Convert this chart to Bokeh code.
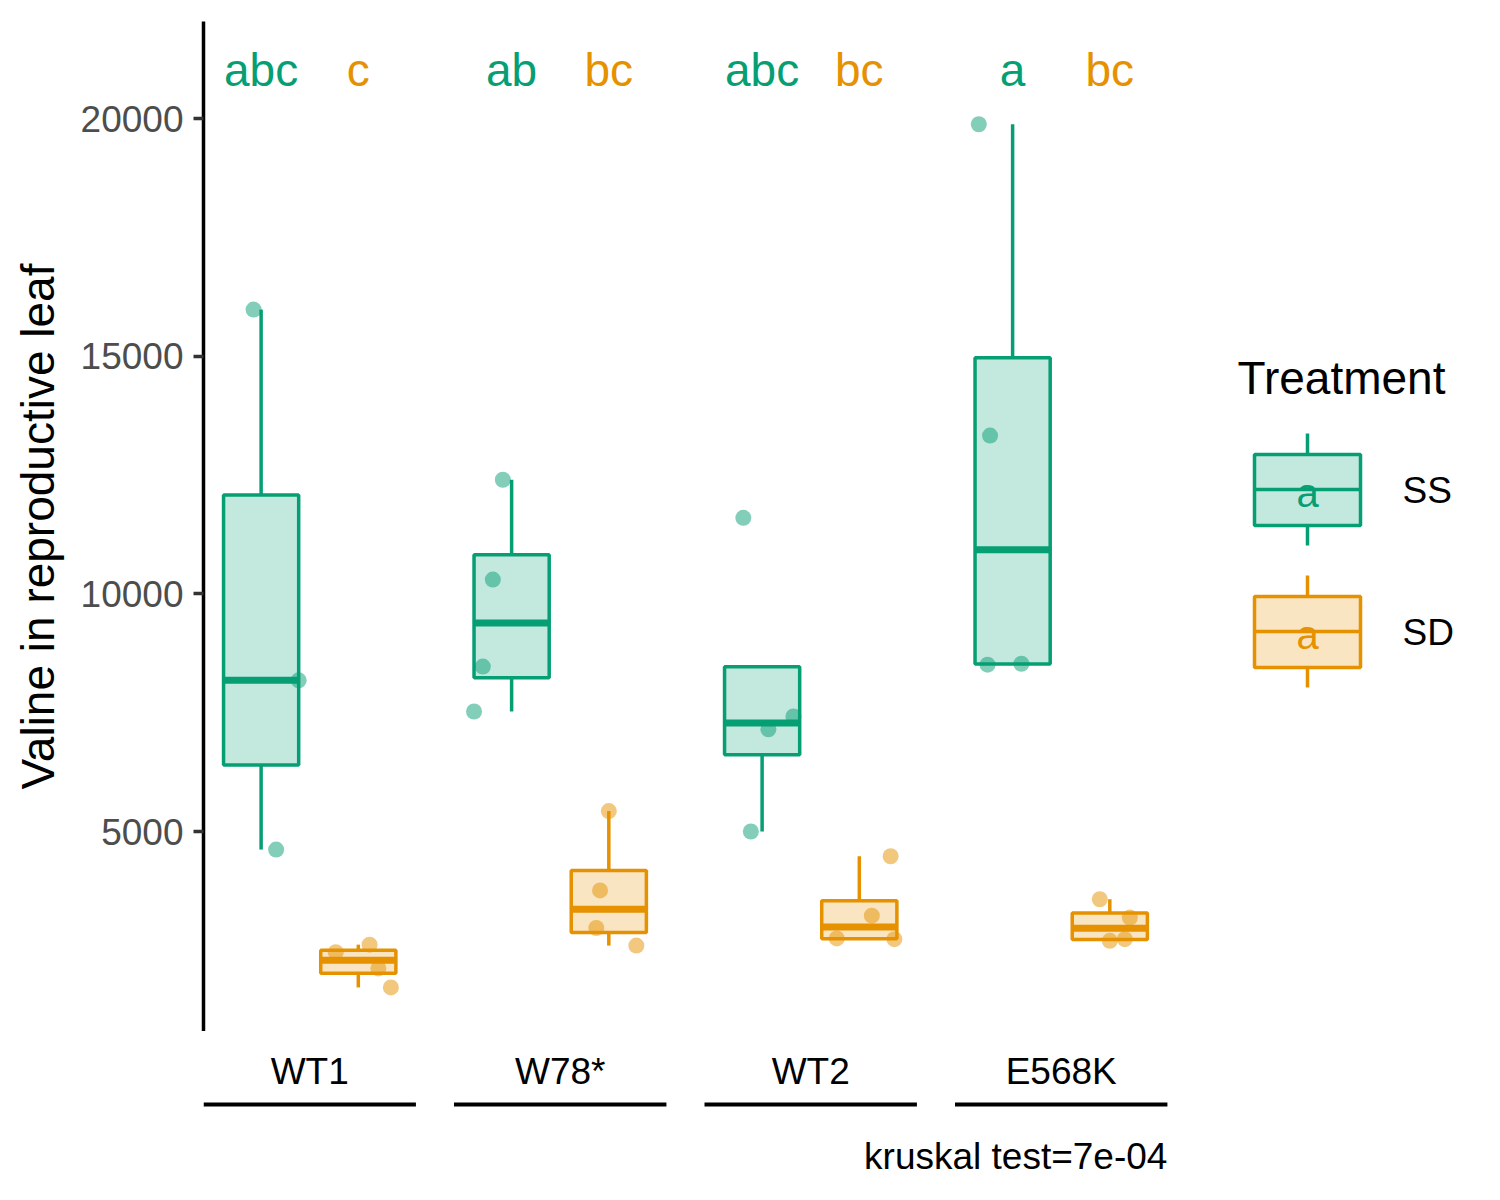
import numpy as np
from bokeh.plotting import figure
from bokeh.layouts import column
from bokeh.models import Range1d, FixedTicker
from bokeh.core.properties import value
from bokeh.embed import file_html
from bokeh.resources import INLINE

# ---------------- data ----------------
genotypes = ["WT1", "W78*", "WT2", "E568K"]
treatments = ["SS", "SD"]

ss_wt1 = [15980, 8180, 4620]
ss_w78 = [12400, 10300, 8470, 7525]
ss_wt2 = [11600, 7420, 7150, 5000]
ss_e568k = [19880, 13330, 8530, 8510]

sd_wt1 = [2620, 2460, 2120, 1720]
sd_w78 = [5430, 3760, 2970, 2600]
sd_wt2 = [4480, 3230, 2750, 2735]
sd_e568k = [3575, 3190, 2735, 2700]

# horizontal jitter of the points
jit_ss_wt1 = [-0.03, 0.15, 0.06]
jit_ss_w78 = [-0.035, -0.075, -0.115, -0.15]
jit_ss_wt2 = [-0.075, 0.125, 0.025, -0.045]
jit_ss_e568k = [-0.135, -0.09, 0.035, -0.10]
jit_sd_wt1 = [0.045, -0.09, 0.08, 0.13]
jit_sd_w78 = [0.0, -0.035, -0.05, 0.11]
jit_sd_wt2 = [0.125, 0.05, -0.09, 0.14]
jit_sd_e568k = [-0.04, 0.08, 0.06, 0.0]

letters_ss = ["abc", "ab", "abc", "a"]
letters_sd = ["c", "bc", "bc", "bc"]
letter_y = 21030
y_ticks = [5000, 10000, 15000, 20000]
kruskal_text = "kruskal test=7e-04"
y_label = "Valine in reproductive leaf"

ss_groups = [ss_wt1, ss_w78, ss_wt2, ss_e568k]
sd_groups = [sd_wt1, sd_w78, sd_wt2, sd_e568k]
ss_jit = [jit_ss_wt1, jit_ss_w78, jit_ss_wt2, jit_ss_e568k]
sd_jit = [jit_sd_wt1, jit_sd_w78, jit_sd_wt2, jit_sd_e568k]

colors = {"SS": "#069E73", "SD": "#E69100"}
FONT = value("Liberation Sans")

# ---------------- geometry ----------------
W = 1484
OFF = 1                         # screenshot offset of the figure
X0_PX, Y0_PX, Y1_PX = 204, 22, 1032   # reference pixels of the panel frame
XPU = 250.5                     # px per category unit
YPU = 0.047533                  # px per value unit
x_start = -0.424
y_top = 22041
frame_w = W - (X0_PX - OFF)
frame_h = Y1_PX - Y0_PX
H1 = (Y0_PX - OFF) + frame_h
H2 = 1185 - Y1_PX

def px_x(px):
    return x_start + (px - X0_PX) / XPU

def px_y(py):
    return y_top - (py - Y0_PX) / YPU

xr = Range1d(x_start, x_start + frame_w / XPU)

p = figure(width=W, height=H1, output_backend="svg", toolbar_location=None,
           x_axis_location=None, x_range=xr,
           y_range=Range1d(y_top - frame_h / YPU, y_top),
           min_border_left=X0_PX - OFF, min_border_right=0,
           min_border_top=Y0_PX - OFF, min_border_bottom=0)
p.outline_line_color = None
p.xgrid.visible = False
p.ygrid.visible = False

ax = p.yaxis[0]
ax.ticker = FixedTicker(ticks=y_ticks)
ax.axis_line_width = 3.5
ax.axis_line_color = "black"
ax.major_tick_line_color = "#333333"
ax.major_tick_line_width = 3.5
ax.major_tick_out = 10
ax.major_tick_in = 0
ax.minor_tick_line_color = None
ax.major_label_text_font = "Liberation Sans"
ax.major_label_text_font_size = "37px"
ax.major_label_text_color = "#4D4D4D"
ax.major_label_standoff = 10
ax.axis_label = y_label
ax.axis_label_text_font = "Liberation Sans"
ax.axis_label_text_font_size = "46px"
ax.axis_label_text_font_style = "normal"
ax.axis_label_text_color = "black"
ax.axis_label_standoff = 14

dodge = {"SS": -0.194, "SD": 0.194}
box_w = 0.3

def box_stats(vals):
    y = np.asarray(vals, dtype=float)
    q1, med, q3 = np.percentile(y, [25, 50, 75])
    iqr = q3 - q1
    out = (y < q1 - 1.5 * iqr) | (y > q3 + 1.5 * iqr)
    inl = y[~out]
    lo = min(np.min(inl), q1)
    hi = max(np.max(inl), q3)
    return lo, q1, med, q3, hi

for tr, groups, jits, letters in [("SS", ss_groups, ss_jit, letters_ss),
                                  ("SD", sd_groups, sd_jit, letters_sd)]:
    c = colors[tr]
    xs, lo_l, q1_l, med_l, q3_l, hi_l = [], [], [], [], [], []
    for i, vals in enumerate(groups):
        lo, q1, med, q3, hi = box_stats(vals)
        xs.append(i + dodge[tr])
        lo_l.append(lo); q1_l.append(q1); med_l.append(med); q3_l.append(q3); hi_l.append(hi)
    xs = np.array(xs)
    p.segment(x0=xs, x1=xs, y0=q3_l, y1=hi_l, line_color=c, line_width=3.5)
    p.segment(x0=xs, x1=xs, y0=lo_l, y1=q1_l, line_color=c, line_width=3.5)
    p.quad(left=xs - box_w / 2, right=xs + box_w / 2, bottom=q1_l, top=q3_l,
           fill_color=c, fill_alpha=0.24, line_color=c, line_width=3.5)
    p.segment(x0=xs - box_w / 2, x1=xs + box_w / 2, y0=med_l, y1=med_l,
              line_color=c, line_width=7)
    px, py = [], []
    for i, (vals, jj) in enumerate(zip(groups, jits)):
        for v, j in zip(vals, jj):
            px.append(i + dodge[tr] + j)
            py.append(v)
    p.scatter(x=px, y=py, size=16, fill_color=c, fill_alpha=0.5, line_color=None)
    p.text(x=xs, y=[letter_y] * len(xs), text=letters, text_color=c,
           text_font=FONT, text_font_size="46px", text_align="center",
           text_baseline="middle")

# legend
p.text(x=[px_x(1238)], y=[px_y(378)], text=["Treatment"], text_color="black",
       text_font=FONT, text_font_size="46px", text_align="left",
       text_baseline="middle")
key_rows = {"SS": 490, "SD": 632}
for tr in treatments:
    c = colors[tr]
    cy = key_rows[tr]
    kx0, kx1, kxm = px_x(1255), px_x(1361), px_x(1308)
    p.segment(x0=[kxm, kxm], x1=[kxm, kxm], y0=[px_y(cy - 56), px_y(cy + 36)],
              y1=[px_y(cy - 36), px_y(cy + 56)], line_color=c, line_width=3.5)
    p.quad(left=[kx0], right=[kx1], top=[px_y(cy - 35)], bottom=[px_y(cy + 36)],
           fill_color=c, fill_alpha=0.24, line_color=c, line_width=3.5)
    p.segment(x0=[kx0], x1=[kx1], y0=[px_y(cy)], y1=[px_y(cy)], line_color=c, line_width=3.5)
    p.text(x=[kxm], y=[px_y(cy + 3)], text=["a"], text_color=c, text_font=FONT,
           text_font_size="40px", text_align="center", text_baseline="middle")
    p.text(x=[px_x(1403)], y=[px_y(cy + 1)], text=[tr], text_color="black",
           text_font=FONT, text_font_size="37px", text_align="left",
           text_baseline="middle")

# bottom strip: genotype labels, per-panel axis lines, test annotation
s = figure(width=W, height=H2, output_backend="svg", toolbar_location=None,
           x_axis_location=None, y_axis_location=None, x_range=xr,
           y_range=Range1d(Y1_PX + H2, Y1_PX),
           min_border_left=X0_PX - OFF, min_border_right=0,
           min_border_top=0, min_border_bottom=0)
s.outline_line_color = None
s.xgrid.visible = False
s.ygrid.visible = False

gx = np.arange(len(genotypes))
s.text(x=gx, y=[1072] * len(gx), text=genotypes, text_color="black",
       text_font=FONT, text_font_size="37px", text_align="center",
       text_baseline="middle")
s.segment(x0=gx - 0.424, x1=gx + 0.424, y0=[1105] * len(gx), y1=[1105] * len(gx),
          line_color="black", line_width=4)
s.text(x=[gx[-1] + 0.424], y=[1157], text=[kruskal_text], text_color="black",
       text_font=FONT, text_font_size="37px", text_align="right",
       text_baseline="middle")

open("out.html", "w").write(file_html(column(p, s), INLINE))
